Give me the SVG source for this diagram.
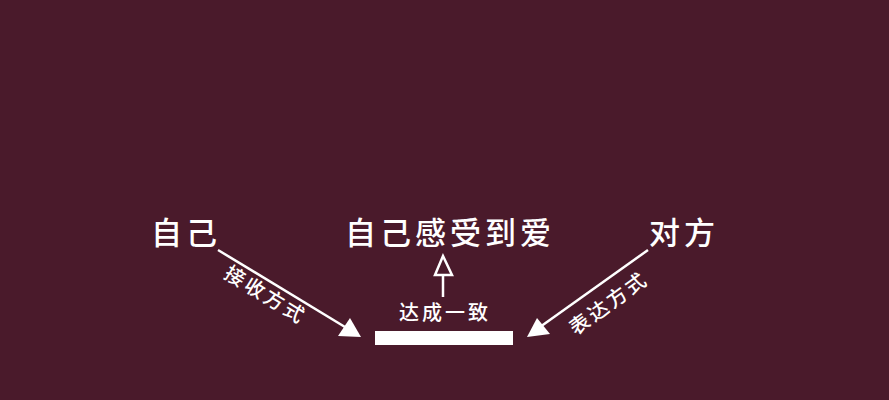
<svg xmlns="http://www.w3.org/2000/svg" width="889" height="400" viewBox="0 0 889 400">
<defs>
<style>
.t{font-family:"Noto Sans CJK SC","Noto Sans CJK TC",sans-serif;fill:#fff;font-weight:500}
.big{font-size:31px;letter-spacing:4px}
.sm{font-size:20px;letter-spacing:3px}
.ln{stroke:#fff;stroke-width:2.5;fill:none}
</style>
</defs>
<rect width="889" height="400" fill="#4a1a2b"/>
<g id="self"><text class="t big" x="151" y="244">自己</text></g>
<g id="feel"><text class="t big" x="345" y="244">自己感受到爱</text></g>
<g id="other"><text class="t big" x="649" y="244">对方</text></g>
<g id="agree">
<text class="t sm" x="445" y="320" text-anchor="middle">达成一致</text>
<rect x="375" y="331" width="138" height="14" fill="#fff"/>
</g>
<g id="connectors">
<line class="ln" x1="218" y1="250" x2="345" y2="327"/>
<polygon points="361,337 350,318 338,336" fill="#fff"/>
<line class="ln" x1="648" y1="250" x2="540" y2="327"/>
<polygon points="527,337 537,318 550,334" fill="#fff"/>
<line class="ln" x1="443" y1="275" x2="443" y2="297"/>
<polygon points="443,256 435,275 452,275" fill="none" stroke="#fff" stroke-width="2.5" stroke-linejoin="miter"/>
<text class="t sm" transform="translate(262,301) rotate(31.5)" text-anchor="middle">接收方式</text>
<text class="t sm" transform="translate(613,309) rotate(-36)" text-anchor="middle">表达方式</text>
</g>
</svg>
